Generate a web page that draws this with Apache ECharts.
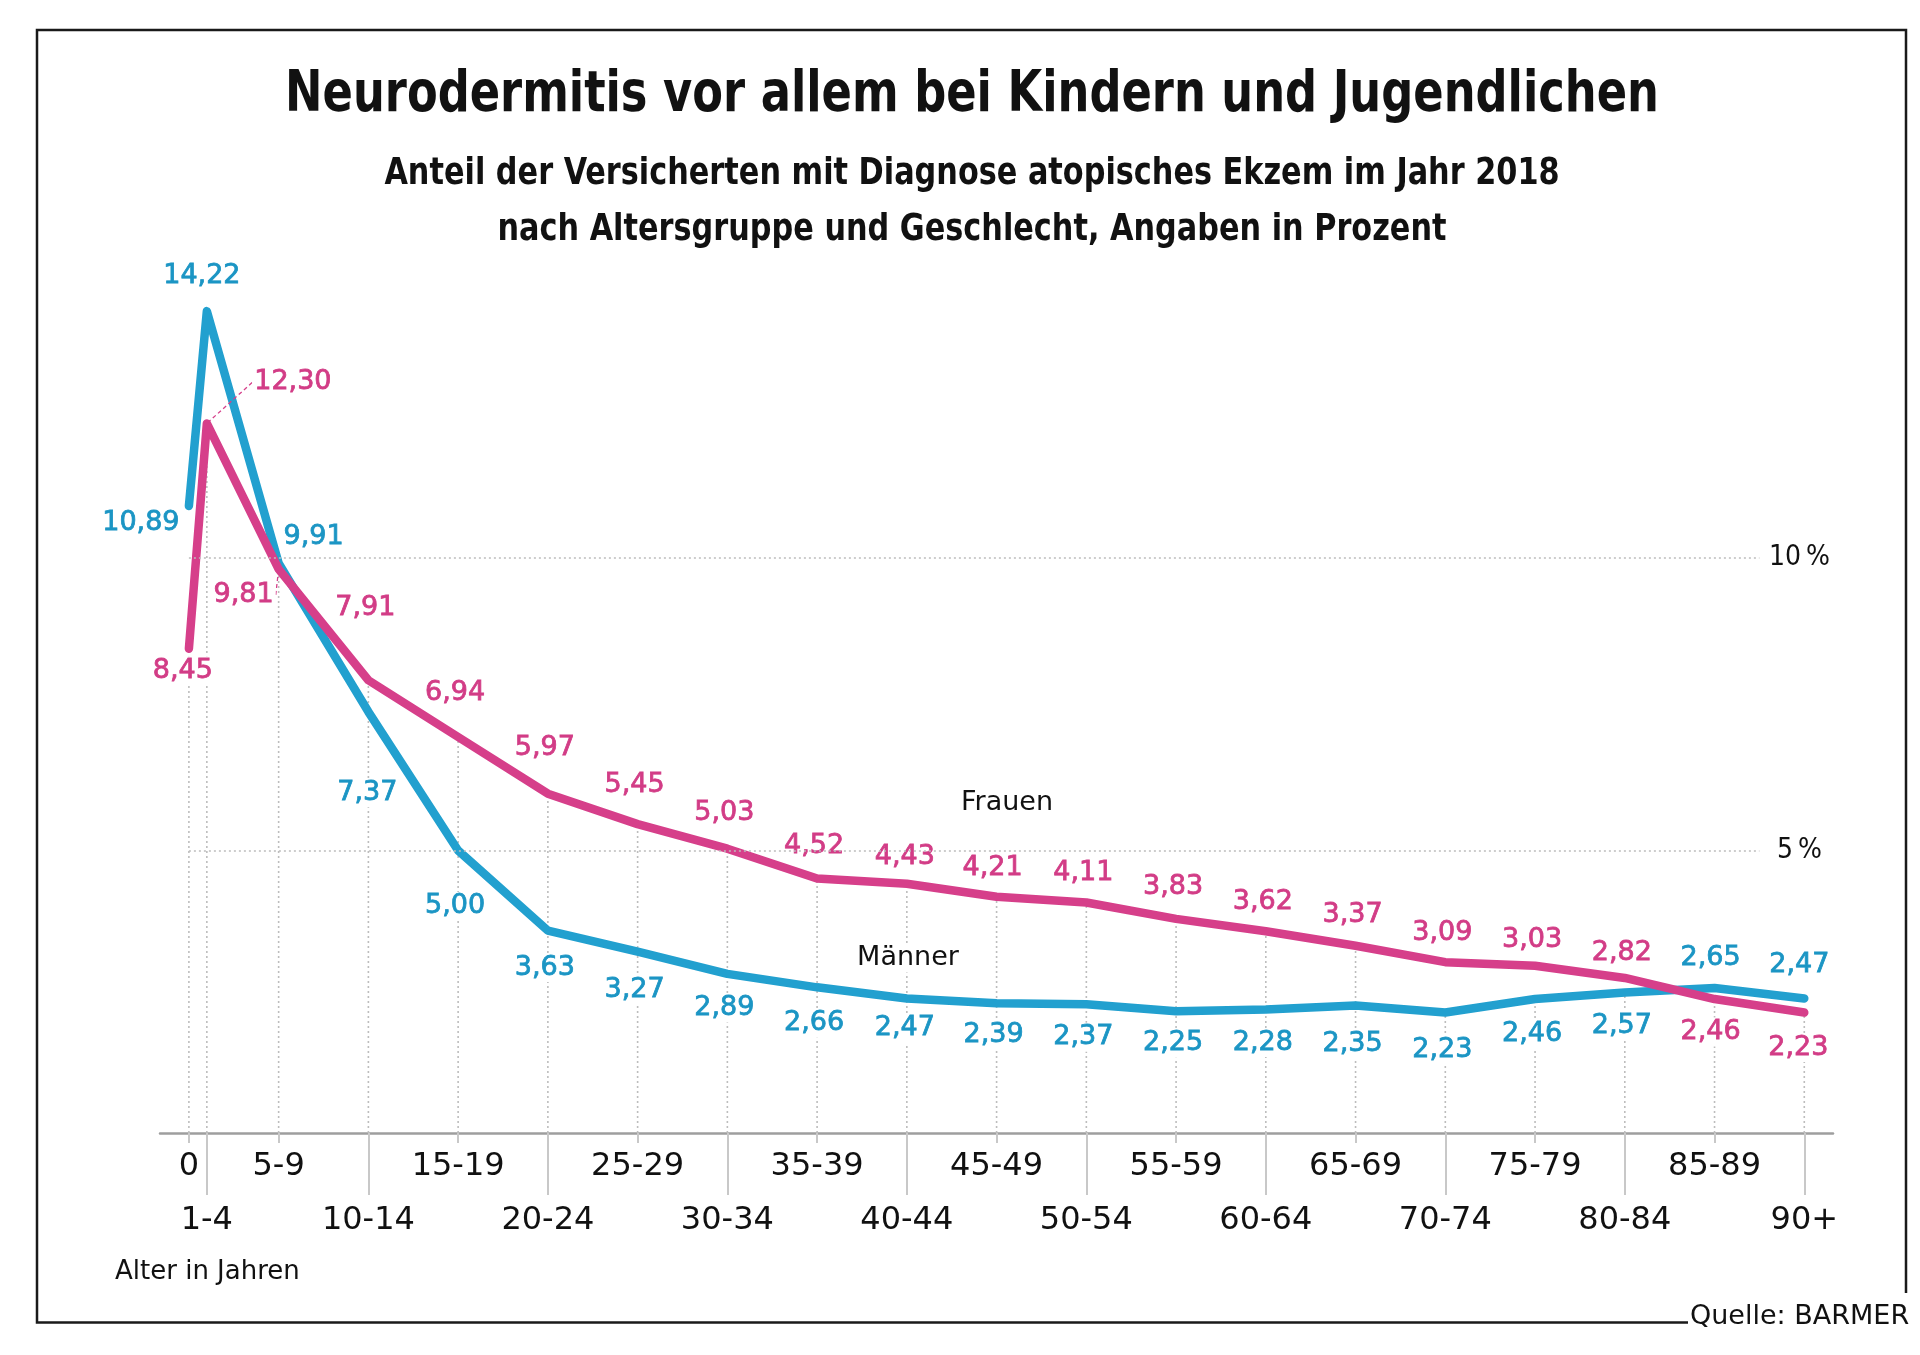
<!DOCTYPE html>
<html>
<head>
<meta charset="utf-8">
<title>Neurodermitis vor allem bei Kindern und Jugendlichen</title>
<script src="https://cdn.jsdelivr.net/npm/echarts@6/dist/echarts.min.js"></script>
<style>
  html, body { margin: 0; padding: 0; background: #ffffff; }
  #chart { width: 1920px; height: 1355px; }
</style>
</head>
<body>
<div id="chart"></div>
<script>
// ---------------- DATA ----------------
const ageGroups = ['0','1-4','5-9','10-14','15-19','20-24','25-29','30-34','35-39','40-44',
                   '45-49','50-54','55-59','60-64','65-69','70-74','75-79','80-84','85-89','90+'];
const ageStart  = [0, 1, 5, 10, 15, 20, 25, 30, 35, 40, 45, 50, 55, 60, 65, 70, 75, 80, 85, 90];
const maenner   = [10.89, 14.22, 9.91, 7.37, 5.00, 3.63, 3.27, 2.89, 2.66, 2.47,
                   2.39, 2.37, 2.25, 2.28, 2.35, 2.23, 2.46, 2.57, 2.65, 2.47];
const frauen    = [8.45, 12.30, 9.81, 7.91, 6.94, 5.97, 5.45, 5.03, 4.52, 4.43,
                   4.21, 4.11, 3.83, 3.62, 3.37, 3.09, 3.03, 2.82, 2.46, 2.23];
const yTicks      = [5, 10];
const yTickLabels = ['5\u2009%', '10\u2009%'];

const titleText    = 'Neurodermitis vor allem bei Kindern und Jugendlichen';
const subtitleText = 'Anteil der Versicherten mit Diagnose atopisches Ekzem im Jahr 2018\nnach Altersgruppe und Geschlecht, Angaben in Prozent';

// ---------------- LAYOUT / STYLE ----------------
const BLUE = '#22a0cf', BLUE_TXT = '#1b95c4';
const PINK = '#d63f8a', PINK_TXT = '#d23c86';
const Y_MIN = 0.17, Y_MAX = 14.41, X_MIN = -1.61, X_MAX = 91.6;
const FONT = '"DejaVu Sans", sans-serif';
const COND_FONT = '"DejaVu Sans Condensed", "DejaVu Sans", sans-serif';

// label offsets (pixels, relative to the point) for each data point
const blueLabelOffset = [[-48,17],[-5,-35],[35,-26],[-1,81],[-3,56],[-3,37],[-3,38],[-3,34],[-3,36],[-2,30],
                         [-3,32],[-3,33],[-3,32],[-3,33],[-3,39],[-3,37],[-3,35],[-3,33],[-4,-30],[-5,-33]];
const pinkLabelOffset = [[-6,22],[86,-41],[-35,26],[-3,-72],[-3,-44],[-3,-46],[-3,-39],[-3,-36],[-3,-33],[-2,-27],
                         [-4,-29],[-3,-30],[-3,-32],[-3,-29],[-3,-31],[-3,-29],[-3,-26],[-3,-25],[-4,33],[-6,35]];
const pinkGuideIdx = [1, 2];

const fmt = v => v.toFixed(2).replace('.', ',');
const labelFor = v => ageGroups[ageStart.indexOf(v)];
const row1 = ageStart.filter((a, i) => i % 2 === 0);
const row2 = ageStart.filter((a, i) => i % 2 === 1);

// top of the vertical dotted guides
const guideTop = ageStart.map((a, i) => a < 70 ? frauen[i] : Math.min(frauen[i], maenner[i]));

const chart = echarts.init(document.getElementById('chart'), null, { renderer: 'canvas' });

const baseLabel = {
  show: true, position: 'inside', fontSize: 27, fontFamily: FONT,
  backgroundColor: '#ffffff', padding: [1, 2], lineHeight: 27, textBorderWidth: 0.8
};

const option = {
  backgroundColor: '#ffffff',
  animation: false,
  textStyle: { fontFamily: FONT },
  grid: { left: 160, right: 87, top: 300, bottom: 222, containLabel: false },
  xAxis: [
    { type: 'value', min: X_MIN, max: X_MAX, position: 'bottom', offset: 0,
      axisLine: { show: true, onZero: false, lineStyle: { color: '#9e9e9e', width: 2.5 } },
      axisTick: { show: true, customValues: row1, length: 10, lineStyle: { color: '#c8c8c8', width: 2 } },
      axisLabel: { show: true, customValues: row1, margin: 18, fontSize: 32, lineHeight: 32, color: '#111',
                   fontFamily: FONT, formatter: labelFor },
      splitLine: { show: false } },
    { type: 'value', min: X_MIN, max: X_MAX, position: 'bottom', offset: 0,
      axisLine: { show: false, onZero: false },
      axisTick: { show: true, customValues: row2, length: 62, lineStyle: { color: '#c8c8c8', width: 2 } },
      axisLabel: { show: true, customValues: row2, margin: 72, fontSize: 32, lineHeight: 32, color: '#111',
                   fontFamily: FONT, formatter: labelFor },
      splitLine: { show: false } }
  ],
  yAxis: { type: 'value', min: Y_MIN, max: Y_MAX, show: false, splitLine: { show: false } },
  graphic: [
    { type: 'text', z: 50, x: 972, y: 96.5, scaleX: 0.873,
      style: { text: titleText, fontSize: 57, lineHeight: 60, fontWeight: 'bold', fontFamily: COND_FONT,
               fill: '#111', align: 'center', verticalAlign: 'middle' } },
    { type: 'text', z: 50, x: 972, y: 202, scaleX: 0.887,
      style: { text: subtitleText, fontSize: 38, lineHeight: 56, fontWeight: 'bold', fontFamily: COND_FONT,
               fill: '#111', align: 'center', verticalAlign: 'middle' } },
    { type: 'polyline', z: 50, silent: true,
      shape: { points: [[1688, 1322.5], [37, 1322.5], [37, 30], [1906, 30], [1906, 1293]] },
      style: { stroke: '#1a1a1a', lineWidth: 2.5, fill: null } },
    { type: 'text', z: 50, left: 1690, top: 1303,
      style: { text: 'Quelle: BARMER', fontSize: 27, fontFamily: FONT, fill: '#111' } },
    { type: 'text', z: 50, left: 115, top: 1259,
      style: { text: 'Alter in Jahren', fontSize: 26, fontFamily: FONT, fill: '#111' } },
    { type: 'text', z: 50, x: 1007, y: 803,
      style: { text: 'Frauen', fontSize: 27, fontFamily: FONT, fill: '#111', align: 'center', verticalAlign: 'middle',
               backgroundColor: '#fff', padding: [1, 3] } },
    { type: 'text', z: 50, x: 908, y: 958,
      style: { text: 'Männer', fontSize: 27, fontFamily: FONT, fill: '#111', align: 'center', verticalAlign: 'middle',
               backgroundColor: '#fff', padding: [1, 3] } }
  ],
  series: [
    {
      type: 'custom', name: 'guides', z: 1, silent: true,
      data: ageStart.map((a, i) => [a, guideTop[i]]),
      renderItem: function (params, api) {
        const x = api.value(0), top = api.value(1);
        const p0 = api.coord([x, Y_MIN]);
        const p1 = api.coord([x, top]);
        return { type: 'line', shape: { x1: p0[0], y1: p0[1], x2: p1[0], y2: p1[1] },
                 style: { stroke: '#bdbdbd', lineWidth: 1.6, lineDash: [2, 3] } };
      },
      markLine: {
        silent: true, symbol: ['none', 'none'], animation: false,
        lineStyle: { color: '#bdbdbd', type: [2, 3], width: 1.6 },
        label: { show: true, position: 'end', distance: 40, align: 'center', formatter: '{b}', fontSize: 28,
                 fontFamily: COND_FONT, color: '#111' },
        data: yTicks.map((t, i) => [ { name: yTickLabels[i], coord: [0, t] }, { coord: [87.5, t] } ])
      }
    },
    {
      type: 'line', name: 'Männer', z: 3,
      data: maenner.map((v, i) => [ageStart[i], v]),
      symbol: 'circle', symbolSize: 2, showSymbol: true,
      itemStyle: { color: 'rgba(0,0,0,0)' },
      lineStyle: { color: BLUE, width: 8.5, cap: 'round', join: 'round' },
      label: Object.assign({}, baseLabel, { color: BLUE_TXT, textBorderColor: BLUE_TXT, formatter: p => fmt(p.value[1]) }),
      labelLayout: p => ({ dx: blueLabelOffset[p.dataIndex][0], dy: blueLabelOffset[p.dataIndex][1] }),
      emphasis: { disabled: true }
    },
    {
      type: 'line', name: 'Frauen', z: 4,
      data: frauen.map((v, i) => ({
        value: [ageStart[i], v],
        labelLine: pinkGuideIdx.indexOf(i) >= 0
          ? { show: true, length2: 0, lineStyle: { color: PINK, width: 1.3, type: [4, 3] } }
          : { show: false }
      })),
      symbol: 'circle', symbolSize: 2, showSymbol: true,
      itemStyle: { color: 'rgba(0,0,0,0)' },
      lineStyle: { color: PINK, width: 8.5, cap: 'round', join: 'round' },
      label: Object.assign({}, baseLabel, { color: PINK_TXT, textBorderColor: PINK_TXT, formatter: p => fmt(p.value[1]) }),
      labelLayout: p => ({ dx: pinkLabelOffset[p.dataIndex][0], dy: pinkLabelOffset[p.dataIndex][1] }),
      emphasis: { disabled: true }
    }
  ]
};

chart.setOption(option);
</script>
</body>
</html>
